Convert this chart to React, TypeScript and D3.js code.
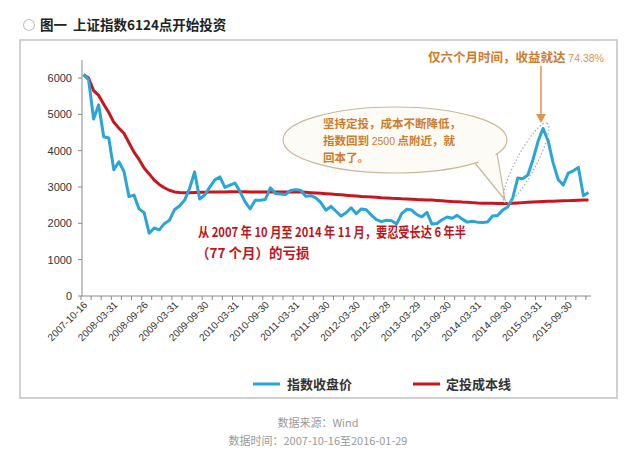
import React from "react";
import * as d3 from "d3";

const dates = [
  "2007-10-16","2007-10-31","2007-11-30","2007-12-28",
  "2008-01-31","2008-02-29","2008-03-31","2008-04-30","2008-05-30","2008-06-30","2008-07-31","2008-08-29","2008-09-26","2008-10-31","2008-11-28","2008-12-31",
  "2009-01-23","2009-02-27","2009-03-31","2009-04-30","2009-05-27","2009-06-30","2009-07-31","2009-08-31","2009-09-30","2009-10-30","2009-11-30","2009-12-31",
  "2010-01-29","2010-02-26","2010-03-31","2010-04-30","2010-05-31","2010-06-30","2010-07-30","2010-08-31","2010-09-30","2010-10-29","2010-11-30","2010-12-31",
  "2011-01-31","2011-02-28","2011-03-31","2011-04-29","2011-05-31","2011-06-30","2011-07-29","2011-08-31","2011-09-30","2011-10-31","2011-11-30","2011-12-30",
  "2012-01-31","2012-02-29","2012-03-30","2012-04-27","2012-05-31","2012-06-29","2012-07-31","2012-08-31","2012-09-28","2012-10-31","2012-11-30","2012-12-31",
  "2013-01-31","2013-02-28","2013-03-29","2013-04-26","2013-05-31","2013-06-28","2013-07-31","2013-08-30","2013-09-30","2013-10-31","2013-11-29","2013-12-31",
  "2014-01-30","2014-02-28","2014-03-31","2014-04-30","2014-05-30","2014-06-30","2014-07-31","2014-08-29","2014-09-30","2014-10-31","2014-11-28","2014-12-31",
  "2015-01-30","2015-02-27","2015-03-31","2015-04-30","2015-05-29","2015-06-30","2015-07-31","2015-08-31","2015-09-30","2015-10-30","2015-11-30","2015-12-31",
  "2016-01-29",
];

const indexClose = [
  6092, 5954, 4871, 5262,
  4383, 4348, 3473, 3693, 3433, 2736, 2776, 2397, 2293, 1729, 1871, 1821,
  1991, 2082, 2373, 2477, 2633, 2959, 3412, 2667, 2779, 2996, 3195, 3277,
  2989, 3051, 3109, 2870, 2592, 2398, 2638, 2638, 2656, 2979, 2820, 2808,
  2791, 2905, 2928, 2911, 2743, 2762, 2701, 2568, 2359, 2468, 2333, 2199,
  2292, 2428, 2263, 2397, 2373, 2225, 2103, 2047, 2086, 2069, 1980, 2269,
  2385, 2366, 2237, 2178, 2301, 1979, 1994, 2098, 2175, 2141, 2220, 2116,
  2033, 2056, 2033, 2026, 2039, 2202, 2217, 2364, 2450, 2700, 3250, 3230,
  3330, 3750, 4250, 4612, 4277, 3664, 3206, 3053, 3383, 3445, 3539, 2760,
  2850,
];

const costLine = [
  6092, 6000, 5650, 5520,
  5280, 5050, 4780, 4620, 4480, 4220, 3960, 3760, 3520, 3360, 3190, 3070,
  2980, 2910, 2865, 2850, 2845, 2845, 2850, 2855, 2855, 2860, 2860, 2865,
  2865, 2870, 2870, 2870, 2870, 2865, 2865, 2865, 2865, 2865, 2865, 2865,
  2865, 2865, 2865, 2860, 2855, 2845, 2835, 2825, 2815, 2805, 2795, 2785,
  2770, 2760, 2750, 2740, 2735, 2725, 2715, 2705, 2700, 2690, 2685, 2675,
  2670, 2665, 2655, 2650, 2645, 2640, 2630, 2620, 2610, 2600, 2595, 2585,
  2580, 2570, 2560, 2555, 2550, 2550, 2545, 2545, 2545, 2550, 2560, 2570,
  2580, 2590, 2595, 2600, 2605, 2610, 2615, 2620, 2625, 2630, 2635, 2640,
  2645,
];

const yTicks = [0, 1000, 2000, 3000, 4000, 5000, 6000];
const xLabelEvery = 6;
const xTickEvery = 2;

const seriesNames = ["指数收盘价", "定投成本线"];
const title = ["图一", "上证指数6124点开始投资"];
const noteRed = ["从 2007 年 10 月至 2014 年 11 月，要忍受长达 6 年半", "（77 个月）的亏损"];
const noteTop = ["仅六个月时间，收益就达 ", "74.38%"];
const bubbleLines = ["坚持定投，成本不断降低，", "指数回到 ", "2500", " 点附近，就", "回本了。"];
const sourceLines = ["数据来源：Wind", "数据时间：2007-10-16至2016-01-29"];

const BLUE = "#2aa5d8";
const RED = "#c8161e";
const ORANGE = "#cf7b2c";
const FONT = "'Liberation Sans', 'Noto Sans CJK SC', sans-serif";
const CJK = "'Noto Sans CJK SC', 'Liberation Sans', sans-serif";

export default function App() {
  const x = d3.scaleBand<string>().domain(dates).range([81, 591]);
  const bw = x.bandwidth();
  const cx = (i: number) => (x(dates[i]) as number) + bw / 2;
  const y = d3.scaleLinear().domain([0, 6000]).range([296, 78]);

  const line = d3
    .line<number>()
    .x((_, i) => cx(i))
    .y((v) => y(v));

  const tickIdx = d3.range(0, dates.length + 1, xTickEvery);
  const labelIdx = d3.range(0, dates.length, xLabelEvery);

  return (
    <svg
      width={640}
      height={466}
      style={{ position: "absolute", left: 0, top: 0, background: "#fff" }}
      fontFamily={FONT}
    >
      {/* title */}
      <circle cx={29} cy={25} r={5.5} fill="none" stroke="#c4c4c4" strokeWidth={1.2} />
      <text x={40} y={30} fontFamily={CJK} fontSize={13.5} fontWeight="bold" fill="#222">
        {title[0]}
      </text>
      <text x={73} y={30} fontFamily={CJK} fontSize={13.5} fontWeight="bold" fill="#222">
        {title[1]}
      </text>

      {/* frame */}
      <rect x={20} y={40} width={597} height={358} fill="#fff" stroke="#c2c2c2" strokeWidth={1.5} />

      {/* y axis */}
      <line x1={82} x2={82} y1={60} y2={y(0)} stroke="#8a8a8a" strokeWidth={1} />
      {yTicks.map((t) => (
        <g key={t}>
          <line x1={78} x2={82} y1={y(t)} y2={y(t)} stroke="#8a8a8a" />
          <text x={72} y={y(t)} dy="0.35em" textAnchor="end" fontSize={11} fill="#333">
            {t}
          </text>
        </g>
      ))}

      {/* x axis */}
      <line x1={81} x2={591} y1={y(0)} y2={y(0)} stroke="#8a8a8a" strokeWidth={1} />
      {tickIdx.map((k) => {
        const xx = 81 + k * bw;
        return <line key={k} x1={xx} x2={xx} y1={y(0)} y2={y(0) + 4} stroke="#8a8a8a" />;
      })}
      {labelIdx.map((i) => (
        <text
          key={i}
          transform={`translate(${cx(i) + 2},${y(0) + 7}) rotate(-45)`}
          textAnchor="end"
          dy="0.35em"
          fontSize={10}
          fill="#333"
        >
          {dates[i]}
        </text>
      ))}

      {/* series */}
      <path d={line(costLine) || ""} fill="none" stroke={RED} strokeWidth={3} strokeLinejoin="round" />
      <path d={line(indexClose) || ""} fill="none" stroke={BLUE} strokeWidth={3} strokeLinejoin="round" />

      {/* speech bubble */}
      <polygon points="475,163 505,200 497,153" fill="#fdfbf6" stroke="#c9b896" strokeWidth={1.2} />
      <ellipse cx={395} cy={140} rx={112} ry={33} fill="#fdfbf6" stroke="#c9b896" strokeWidth={1.2} />
      <polygon points="477,160 503,195 495,152" fill="#fdfbf6" stroke="none" />
      <g fontFamily={CJK} fontSize={11.5} fontWeight="bold" fill={ORANGE}>
        <text x={323} y={128}>{bubbleLines[0]}</text>
        <text x={323} y={145}>
          {bubbleLines[1]}
          <tspan fontFamily={FONT} fontWeight="normal" fontSize={10.5}>{bubbleLines[2]}</tspan>
          {bubbleLines[3]}
        </text>
        <text x={323} y={162}>{bubbleLines[4]}</text>
      </g>

      {/* dotted ellipse around the rally */}
      <ellipse
        cx={526}
        cy={163}
        rx={45}
        ry={10}
        transform="rotate(-62 526 163)"
        fill="none"
        stroke="#a9a9a9"
        strokeWidth={1.2}
        strokeDasharray="1.5 2"
      />

      {/* top annotation */}
      <text x={428} y={62} fontFamily={CJK} fontSize={12.5} fontWeight="bold" fill={ORANGE}>
        {noteTop[0]}
        <tspan fontFamily={FONT} fontWeight="normal" fontSize={10.5} fill="#e0924a">{noteTop[1]}</tspan>
      </text>
      <line x1={541} x2={541} y1={66} y2={116} stroke="#e2934c" strokeWidth={1.5} />
      <polygon points="536,114 546,114 541,123" fill="#e2934c" />

      {/* red annotation */}
      <g fontFamily={CJK} fontWeight="bold" fill="#c0141c" fontSize={13.5}>
        <text x={198} y={237} textLength={268} lengthAdjust="spacingAndGlyphs">{noteRed[0]}</text>
        <text x={196} y={258}>{noteRed[1]}</text>
      </g>

      {/* legend */}
      <line x1={253} x2={280} y1={384} y2={384} stroke={BLUE} strokeWidth={3} />
      <text x={287} y={384} dy="0.35em" fontFamily={CJK} fontSize={13} fontWeight="bold" fill="#333">
        {seriesNames[0]}
      </text>
      <line x1={413} x2={440} y1={384} y2={384} stroke={RED} strokeWidth={3} />
      <text x={446} y={384} dy="0.35em" fontFamily={CJK} fontSize={13} fontWeight="bold" fill="#333">
        {seriesNames[1]}
      </text>

      {/* source */}
      <text x={318} y={423} dy="0.35em" textAnchor="middle" fontFamily={CJK} fontSize={11} fill="#9a9a9a">
        {sourceLines[0]}
      </text>
      <text x={318} y={441} dy="0.35em" textAnchor="middle" fontFamily={CJK} fontSize={11} fill="#9a9a9a">
        {sourceLines[1]}
      </text>
    </svg>
  );
}
